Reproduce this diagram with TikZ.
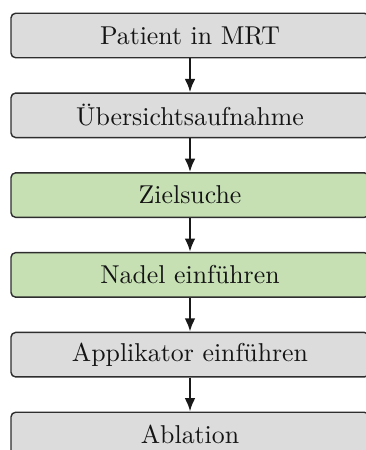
\documentclass[tikz,border=0pt]{standalone}
\usepackage{fontspec}
\usetikzlibrary{arrows.meta}
\definecolor{boxgray}{HTML}{DCDCDC}
\definecolor{boxgreen}{HTML}{C6E0B4}
\definecolor{edgecol}{HTML}{2E2E2E}
\begin{document}
\begin{tikzpicture}[x=0.3875pt,y=-0.3875pt,
  stepbox/.style={draw=edgecol, line width=0.55pt, rounded corners=1.8pt,
    minimum width={358*0.3875pt}, minimum height={44.5*0.3875pt},
    inner sep=0pt, text=black!92},
  graybox/.style={stepbox, fill=boxgray},
  greenbox/.style={stepbox, fill=boxgreen},
  flow/.style={draw=black!90, line width=0.95pt, -{Latex[length=5.2pt,width=4.2pt]}}]
\useasboundingbox (0,0) rectangle (366,450);
\clip (0,0) rectangle (366,450);
% process steps
\node[graybox]  (s1) at (190,35.5)  {Patient in MRT};
\node[graybox]  (s2) at (190,115.3) {Übersichtsaufnahme};
\node[greenbox] (s3) at (190,195.1) {Zielsuche};
\node[greenbox] (s4) at (190,274.9) {Nadel einführen};
\node[graybox]  (s5) at (190,354.7) {Applikator einführen};
\node[graybox]  (s6) at (190,434.5) {Ablation};
% connectors
\draw[flow] (s1) -- (s2);
\draw[flow] (s2) -- (s3);
\draw[flow] (s3) -- (s4);
\draw[flow] (s4) -- (s5);
\draw[flow] (s5) -- (s6);
\end{tikzpicture}
\end{document}
